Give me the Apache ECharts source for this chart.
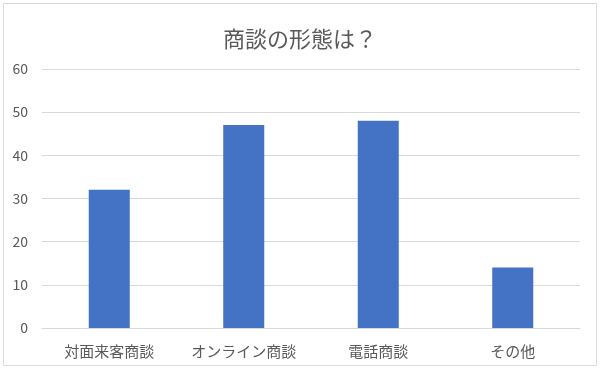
<!DOCTYPE html>
<html><head><meta charset="utf-8">
<script src="https://cdn.jsdelivr.net/npm/echarts@6/dist/echarts.min.js"></script>
<style>html,body{margin:0;padding:0;background:#fff}#c{width:600px;height:369px}</style>
</head><body><div id="c"></div>
<script>
const title = '商談の形態は？';
const categories = ['対面来客商談', 'オンライン商談', '電話商談', 'その他'];
const values = [32, 47, 48, 14];
const yTicks = {min: 0, max: 60, interval: 10};

const chart = echarts.init(document.getElementById('c'), null, {renderer: 'canvas'});
chart.setOption({
  animation: false,
  backgroundColor: '#fff',
  textStyle: {fontFamily: '"Noto Sans CJK JP", sans-serif'},
  graphic: [{type: 'rect', shape: {x: 3.5, y: 3.5, width: 593, height: 362}, style: {fill: 'none', stroke: '#d9d9d9', lineWidth: 1}}],
  title: {text: title, left: 'center', top: 23, textStyle: {fontSize: 22, fontWeight: 'normal', color: '#595959', fontFamily: '"Noto Sans CJK JP", sans-serif'}},
  grid: {left: 42, right: 20, top: 69, bottom: 41},
  xAxis: {type: 'category', data: categories,
    axisLine: {lineStyle: {color: '#d9d9d9'}}, axisTick: {show: false},
    axisLabel: {color: '#595959', fontSize: 15, margin: 16, interval: 0, hideOverlap: false}},
  yAxis: {type: 'value', min: yTicks.min, max: yTicks.max, interval: yTicks.interval,
    axisLine: {show: false}, axisTick: {show: false},
    splitLine: {lineStyle: {color: '#d9d9d9'}},
    axisLabel: {color: '#595959', fontSize: 14, margin: 14}},
  series: [{type: 'bar', data: values, barWidth: '30.5%', itemStyle: {color: '#4472c4'}}]
});
</script></body></html>
